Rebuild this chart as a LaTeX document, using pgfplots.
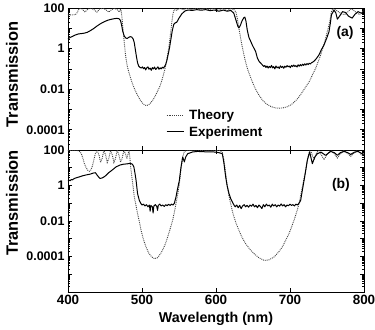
\documentclass[border=0pt]{standalone}
\usepackage{pgfplots}
\pgfplotsset{compat=1.18}
\usepackage{pgfplotstable}
\usepackage{fontspec}
\setmainfont{Liberation Sans}

% transmission spectra, stored as log10(T)
\pgfplotstableread{
nm lg
400 1.66
405 1.66
410 1.67
412 1.75
414 1.90
416 1.98
419 1.95
423 1.80
427 1.95
431 1.99
435 1.92
439 1.80
443 1.95
447 1.99
451 1.92
455 1.80
459 1.92
463 1.99
467 1.90
469.5 1.80
471 1.95
472 1.85
473 1.50
474.5 0.90
476 0.30
478 -0.40
480 -0.85
482 -1.14
485 -1.50
488 -1.82
491 -2.08
494 -2.30
497 -2.50
500 -2.66
503 -2.77
506 -2.81
509 -2.77
512 -2.67
515 -2.52
518 -2.33
521 -2.10
524 -1.88
527 -1.55
530 -1.15
532 -0.85
534 -0.45
536 0.00
538 0.55
540 1.20
542 1.75
544 1.95
547 1.88
551 1.98
556 1.92
561 1.99
567 1.93
573 1.99
579 1.94
585 1.99
591 1.93
597 1.99
603 1.88
609 1.99
615 1.86
620 1.97
624 1.93
627 1.80
629 1.45
631 1.00
633.3 0.51
635.5 0.08
637.8 -0.32
640 -0.66
642.3 -0.97
645.5 -1.30
649 -1.63
653 -1.97
658 -2.29
663 -2.55
669 -2.75
675 -2.87
681 -2.93
686 -2.94
691 -2.92
696 -2.87
701 -2.78
706 -2.63
710 -2.48
714 -2.29
718 -2.07
722 -1.85
726 -1.63
730 -1.32
734.7 -0.97
738 -0.65
741.4 -0.32
745 0.10
748.2 0.51
750.5 0.85
752.7 1.16
754.5 1.50
756 1.82
758 1.97
762 1.90
766 1.80
770 1.70
774 1.68
778 1.80
782 1.95
786 1.90
790 1.75
794 1.68
797 1.78
800 1.90
}\theoryA

\pgfplotstableread{
nm lg
400 0.48
403 0.55
406 0.60
410 0.67
414 0.72
418 0.74
422 0.76
426 0.80
430 0.88
434 0.97
438 1.08
442 1.18
446 1.27
450 1.34
454 1.40
458 1.44
462 1.47
466 1.49
469 1.47
471 1.38
472.5 1.15
474 0.85
476 0.62
478 0.52
480 0.50
482 0.55
484 0.59
486 0.57
488 0.48
489.5 0.30
491 -0.05
492.5 -0.40
494 -0.70
495.5 -0.86
497 -0.92
499 -0.96
500.5 -0.90
502 -0.99
503.5 -0.93
505 -1.05
506.5 -0.95
508 -0.90
509.5 -1.02
511 -0.96
512.5 -1.07
514 -0.94
515.5 -1.00
517 -0.91
518.5 -1.03
520 -0.97
521.5 -0.90
523 -1.02
524.5 -0.95
526 -1.00
527.5 -0.92
529 -0.96
530.5 -0.88
532 -0.78
533.5 -0.60
535 -0.35
537 0.00
539 0.45
541 0.90
543 1.20
545 1.27
547 1.30
550 1.50
554 1.72
558 1.85
562 1.90
568 1.88
574 1.92
580 1.89
586 1.92
592 1.87
598 1.90
604 1.84
610 1.90
615 1.84
620 1.88
624 1.75
627 1.40
629.5 1.10
631 1.02
633 1.15
635 1.35
637.5 1.52
639 1.55
640.5 1.35
642.3 0.90
644.5 0.55
647 0.35
649 0.18
651.5 0.00
653.6 -0.15
655.8 -0.45
658 -0.62
660.5 -0.72
662.5 -0.80
664.5 -0.88
666 -0.84
667.5 -0.93
669 -0.86
670.5 -0.96
672 -0.88
673.5 -0.94
675 -0.83
676.5 -0.95
678 -0.89
679.5 -1.00
681 -0.86
682.5 -0.95
684 -0.90
685.5 -0.98
687 -0.85
688.5 -0.93
690 -0.88
691.5 -0.97
693 -0.87
694.5 -0.92
696 -0.84
697.5 -0.90
699 -0.86
700.5 -0.94
702 -0.83
703.5 -0.89
705 -0.81
706.5 -0.88
708 -0.84
709.5 -0.91
711 -0.80
712.5 -0.87
714 -0.79
715.5 -0.85
717 -0.77
718.5 -0.83
720 -0.75
721.5 -0.81
723 -0.74
724.5 -0.79
726 -0.72
727.5 -0.76
729 -0.70
732 -0.64
735.5 -0.50
739 -0.32
742.5 -0.05
746 0.18
749.5 0.50
752.7 0.83
754.5 1.25
756 1.66
759.5 1.90
762 1.75
764 1.45
767 1.60
771 1.82
775 1.78
779 1.60
784 1.50
788 1.70
792 1.82
796 1.75
800 1.72
}\expA

\pgfplotstableread{
nm lg
400 1.98
410 1.98
415 1.95
418 1.80
420 1.55
422 1.25
424.5 1.00
427 0.85
429 0.80
431 0.88
433 1.10
435 1.45
437 1.80
439.5 1.98
442 1.70
444 1.30
446 1.50
448.5 1.98
451 1.70
453 1.30
455 1.50
457.5 1.98
460 1.70
462 1.30
464 1.50
466.5 1.98
469 1.70
471 1.32
473 1.50
475.5 1.98
478 1.75
479.5 1.50
481 1.75
482.5 2.00
483.5 1.60
484.5 1.10
486 0.60
487.5 0.10
489.6 -0.65
492 -1.15
494 -1.59
496.5 -2.05
498.6 -2.50
502 -3.05
505.4 -3.46
509 -3.80
513 -4.02
517 -4.12
521 -4.07
525 -3.85
528 -3.62
531.5 -3.30
534.7 -2.90
538 -2.45
541.4 -1.96
544 -1.45
546 -1.00
548.5 -0.45
550.5 0.10
552 0.70
553.5 1.15
555 1.60
557 1.89
560 1.97
570 1.99
580 1.98
590 1.99
600 1.98
606 1.97
608.5 1.85
610.8 1.42
612 1.05
613.1 0.67
614.2 0.30
615.3 -0.08
617.5 -0.58
619.8 -1.02
622 -1.42
624.3 -1.77
627.5 -2.17
631.1 -2.53
635.5 -2.95
640.1 -3.28
645.5 -3.58
651.4 -3.84
658 -4.07
665 -4.22
671 -4.20
678.4 -4.03
684 -3.78
689.6 -3.46
694 -3.10
698.6 -2.71
702 -2.35
705.4 -1.96
709 -1.50
712.2 -1.02
714.5 -0.55
716.7 -0.08
719 0.40
721.2 0.85
723 1.30
724.3 1.61
726.6 1.94
729 1.85
731 1.60
733 1.50
736 1.85
739 1.97
742 1.75
746 1.45
750 1.75
755 1.97
760 1.78
764 1.55
768 1.78
773 1.97
778 1.80
782 1.65
786 1.80
791 1.97
795 1.80
798 1.70
800 1.75
}\theoryB

\pgfplotstableread{
nm lg
400 0.25
401.5 0.30
403 0.27
404.5 0.34
406 0.32
408 0.38
410 0.42
415 0.48
420 0.55
425 0.60
430 0.64
434 0.70
437 0.72
440 0.55
443 0.40
446 0.42
450 0.52
455 0.72
460 0.88
465 1.05
470 1.15
475 1.20
480 1.22
484 1.25
487 1.20
489 1.05
490.5 0.70
492 0.29
494 -0.46
496.4 -0.84
498.6 -1.02
500 -1.10
502 -1.05
504 -1.15
506 -1.08
508 -1.20
510 -1.10
511 -1.45
512 -1.12
514 -1.20
515 -1.55
516 -1.15
518 -1.08
520 -1.18
521 -1.40
522 -1.12
524 -1.05
526 -1.15
528 -1.10
530 -1.18
532 -1.08
534 -1.14
536 -1.06
538 -1.12
540 -1.05
542 -1.10
543.7 -1.00
545.9 -0.65
548 -0.20
550.5 0.29
552.7 1.04
555 1.61
557.2 1.33
559 1.60
561.7 1.79
568.5 1.89
575 1.92
585 1.90
597 1.89
604 1.85
608.6 1.79
610.8 1.23
613.1 0.48
615 0.00
617.6 -0.46
620 -0.75
622.1 -0.93
624.3 -1.10
626 -1.20
628 -1.10
630 -1.25
632 -1.12
634 -1.30
636 -1.15
638 -1.08
640 -1.20
642 -1.12
644 -1.22
646 -1.10
648 -1.17
650 -1.05
652 -1.20
654 -1.12
656 -1.25
658 -1.10
660 -1.18
662 -1.30
664 -1.08
666 -1.20
668 -1.05
670 -1.15
672 -1.10
674 -1.22
676 -1.05
678 -1.15
680 -1.08
682 -1.20
684 -1.10
686 -1.16
688 -1.04
690 -1.15
692 -1.08
694 -1.20
696 -1.10
698 -1.14
700 -1.05
702 -1.12
704 -1.08
706 -1.15
708 -1.05
710 -1.10
712.2 -1.00
714.4 -0.84
716.7 -0.27
719.8 0.48
723.4 1.42
726.6 1.89
730.2 1.23
733.5 1.60
736.9 1.79
742 1.88
748 1.70
755 1.92
760 1.85
764 1.70
768 1.85
773 1.92
778 1.85
782 1.75
787 1.88
792 1.92
797 1.80
800 1.85
}\expB

\pgfplotsset{
  theory/.style={densely dotted, color=black!75, line width=0.9pt},
  experiment/.style={black, line width=1pt, line join=round},
}

\begin{document}
\begin{tikzpicture}
\begin{axis}[
  ymode=log,
  scale only axis, width=296bp, height=142bp,
  xmin=400, xmax=800,
  xtick={400,500,600,700,800},
  axis line style={line width=0.8pt},
  tick style={black, line width=0.6pt},
  major tick length=4bp, minor tick length=2bp,
  tick align=inside,
  tick label style={font=\bfseries\fontsize{12.5}{14}\selectfont},
  at={(0bp,0bp)}, anchor=north west,
  ymin=1e-5, ymax=100,
  ytick={1e-5,1e-4,1e-3,1e-2,1e-1,1,10,100},
  yticklabels={,0.0001,,0.01,,1,,100},
  xticklabels={},
  ylabel={Transmission},
  ylabel style={at={(axis description cs:-0.189,0.532)}, anchor=center,
    font=\bfseries\fontsize{16.5}{18}\selectfont},
  legend style={at={(0.331,0.30)}, anchor=north west, draw=none, fill=none,
    inner sep=0pt, row sep=1.5bp,
    font=\bfseries\fontsize{13.5}{15}\selectfont,
    cells={anchor=west}},
  legend image code/.code={\draw[#1] (0bp,0bp) -- (17bp,0bp);},
]
\addplot[theory] table[x=nm, y expr=10^(\thisrow{lg})] {\theoryA};
\addlegendentry{\hspace{3bp}Theory}
\addplot[experiment] table[x=nm, y expr=10^(\thisrow{lg})] {\expA};
\addlegendentry{\hspace{3bp}Experiment}
\node[font=\bfseries\fontsize{14}{16}\selectfont] at (rel axis cs:0.936,0.824) {(a)};
\end{axis}

\begin{axis}[
  ymode=log,
  scale only axis, width=296bp, height=142bp,
  xmin=400, xmax=800,
  xtick={400,500,600,700,800},
  axis line style={line width=0.8pt},
  tick style={black, line width=0.6pt},
  major tick length=4bp, minor tick length=2bp,
  tick align=inside,
  tick label style={font=\bfseries\fontsize{12.5}{14}\selectfont},
  xticklabel style={font=\bfseries\fontsize{13.5}{15}\selectfont},
  /pgf/number format/assume math mode=true,
  at={(0bp,-142bp)}, anchor=north west,
  ymin=1e-6, ymax=100,
  ytick={1e-6,1e-5,1e-4,1e-3,1e-2,1e-1,1,10,100},
  yticklabels={,,0.0001,,0.01,,1,,100},
  xlabel={Wavelength (nm)},
  xlabel style={font=\bfseries\fontsize{14.3}{16}\selectfont},
  ylabel={Transmission},
  ylabel style={at={(axis description cs:-0.189,0.627)}, anchor=center,
    font=\bfseries\fontsize{16.5}{18}\selectfont},
]
\addplot[theory] table[x=nm, y expr=10^(\thisrow{lg})] {\theoryB};
\addplot[experiment] table[x=nm, y expr=10^(\thisrow{lg})] {\expB};
\node[font=\bfseries\fontsize{14}{16}\selectfont] at (rel axis cs:0.922,0.754) {(b)};
\end{axis}

\pgfresetboundingbox
\path[use as bounding box] (-68bp,8bp) rectangle (307bp,-322bp);
\end{tikzpicture}
\end{document}
